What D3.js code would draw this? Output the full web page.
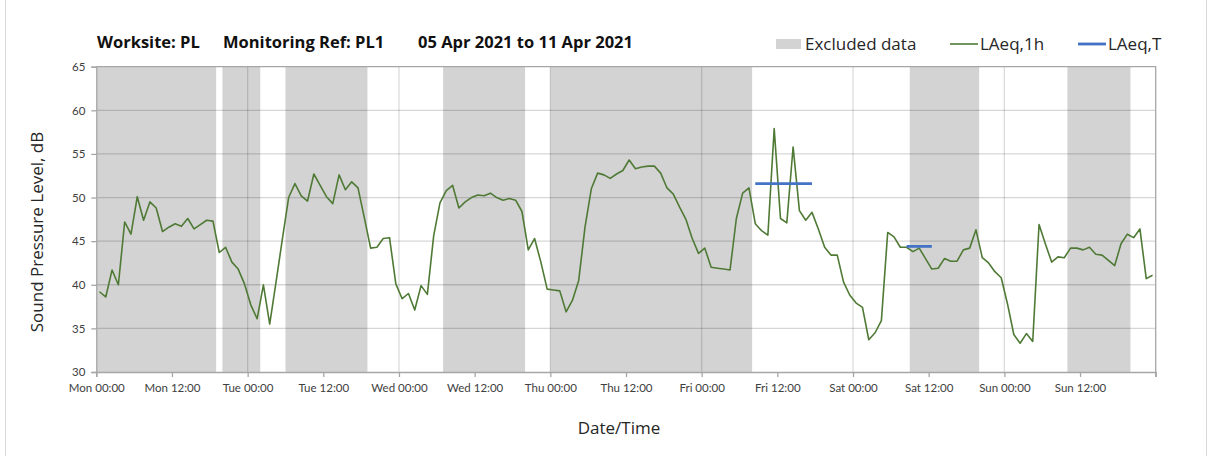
<!DOCTYPE html>
<html>
<head>
<meta charset="utf-8">
<script src="https://cdn.jsdelivr.net/npm/d3@7"></script>
<style>
  body { margin: 0; background: #fff; }
  text { font-family: "Open Sans", Lato, sans-serif; }
</style>
</head>
<body>
<script>
// chart values
var startTime = new Date(2021, 3, 5, 0, 0);   // Mon 05 Apr 2021 00:00
var endTime = new Date(2021, 3, 12, 0, 0);

// hourly LAeq,1h (one value per hour from Mon 00:00)
var laeq1h = [
  39.2, 38.6, 41.7, 40.0, 47.2, 45.8, 50.1, 47.4, 49.5, 48.8, 46.1, 46.6,
  47.0, 46.7, 47.6, 46.4, 46.9, 47.4, 47.3, 43.7, 44.3, 42.6, 41.8, 40.1,
  37.7, 36.1, 40.0, 35.5, 40.3, 45.2, 50.0, 51.6, 50.2, 49.6, 52.7, 51.4,
  50.1, 49.3, 52.6, 50.9, 51.8, 51.1, 47.7, 44.2, 44.3, 45.3, 45.4, 40.1,
  38.4, 39.0, 37.1, 39.9, 38.9, 45.6, 49.4, 50.8, 51.4, 48.8, 49.5, 50.0,
  50.3, 50.2, 50.5, 50.0, 49.7, 49.9, 49.7, 48.4, 44.0, 45.3, 42.6, 39.5,
  39.4, 39.3, 36.9, 38.2, 40.5, 46.6, 51.0, 52.8, 52.6, 52.2, 52.7, 53.1,
  54.3, 53.3, 53.5, 53.6, 53.6, 52.8, 51.1, 50.4, 48.9, 47.5, 45.3, 43.6,
  44.2, 42.0, 41.9, 41.8, 41.7, 47.6, 50.5, 51.1, 47.0, 46.2, 45.7, 57.9,
  47.6, 47.1, 55.8, 48.5, 47.4, 48.3, 46.4, 44.3, 43.4, 43.4, 40.3, 38.8,
  37.9, 37.4, 33.7, 34.5, 35.9, 46.0, 45.5, 44.3, 44.3, 43.8, 44.2, 43.0,
  41.8, 41.9, 43.0, 42.7, 42.7, 44.0, 44.2, 46.3, 43.1, 42.5, 41.5, 40.8,
  37.8, 34.3, 33.3, 34.4, 33.5, 46.9, 44.7, 42.6, 43.2, 43.1, 44.2, 44.2,
  44.0, 44.3, 43.5, 43.4, 42.8, 42.2, 44.7, 45.8, 45.4, 46.4, 40.7, 41.1
];

// excluded periods, hours from Mon 00:00
var excludedStart = [0, 20, 30, 55, 72, 129, 154];
var excludedEnd   = [19, 26, 43, 68, 104, 140, 164];

// LAeq,T periods (first and last hourly value covered) and levels
var laeqTFirst = [104, 128];
var laeqTLast  = [113, 132];
var laeqTValue = [51.6, 44.4];

var yTicks = [30, 35, 40, 45, 50, 55, 60, 65];

//Width and height
var w = 1212;
var h = 456;
var plotLeft = 96.3, plotRight = 1155.7, plotTop = 66.7, plotBottom = 372;

var hourMs = 3600 * 1000;
function atHour(hr) { return new Date(startTime.getTime() + hr * hourMs); }

var x = d3.scaleTime().domain([startTime, endTime]).range([plotLeft, plotRight]);
var y = d3.scaleLinear().domain([30, 65]).range([plotBottom, plotTop]);

var svg = d3.select("body").append("svg")
    .attr("width", w)
    .attr("height", h);

// outer frame
svg.append("rect")
    .attr("x", 5.5).attr("y", -2)
    .attr("width", 1201).attr("height", h + 4)
    .attr("fill", "none")
    .attr("stroke", "#d9d9d9");

// excluded bands
svg.selectAll("rect.band")
    .data(excludedStart)
    .enter().append("rect")
    .attr("class", "band")
    .attr("x", function (d) { return x(atHour(d)); })
    .attr("y", plotTop)
    .attr("width", function (d, i) { return x(atHour(excludedEnd[i])) - x(atHour(d)); })
    .attr("height", plotBottom - plotTop)
    .attr("fill", "#d3d3d3");

// gridlines
svg.append("g").selectAll("line")
    .data(yTicks.slice(1, -1))
    .enter().append("line")
    .attr("x1", plotLeft).attr("x2", plotRight)
    .attr("y1", function (d) { return y(d); })
    .attr("y2", function (d) { return y(d); })
    .attr("stroke", "rgba(0,0,0,0.16)")
    .attr("stroke-width", 1.3);

var dayTicks = d3.timeDay.range(d3.timeDay.offset(startTime, 1), endTime);
svg.append("g").selectAll("line")
    .data(dayTicks)
    .enter().append("line")
    .attr("x1", function (d) { return x(d); })
    .attr("x2", function (d) { return x(d); })
    .attr("y1", plotTop).attr("y2", plotBottom)
    .attr("stroke", "rgba(0,0,0,0.14)")
    .attr("stroke-width", 1.3);

// plot frame (top and right)
svg.append("path")
    .attr("d", "M" + plotLeft + "," + plotTop + "H" + plotRight + "V" + plotBottom)
    .attr("fill", "none")
    .attr("stroke", "#a6a6a6")
    .attr("stroke-width", 1.3);

// axes
var fmt = d3.timeFormat("%a %H:%M");
var xAxis = d3.axisBottom(x)
    .tickValues(d3.timeHour.every(12).range(startTime, endTime))
    .tickFormat(fmt)
    .tickSize(5)
    .tickPadding(7);
var gx = svg.append("g")
    .attr("transform", "translate(0," + plotBottom + ")")
    .call(xAxis);
// closing tick at the right end
gx.append("line").attr("x1", plotRight).attr("x2", plotRight).attr("y1", 0).attr("y2", 5);

var yAxis = d3.axisLeft(y).tickValues(yTicks).tickSize(5).tickPadding(6);
var gy = svg.append("g")
    .attr("transform", "translate(" + plotLeft + ",0)")
    .call(yAxis);

[gx, gy].forEach(function (g) {
    g.select(".domain").attr("stroke", "#a6a6a6").attr("stroke-width", 1.3);
    g.selectAll("line").attr("stroke", "#a6a6a6").attr("stroke-width", 1.3);
    g.selectAll("text")
        .attr("fill", "#404040")
        .style("font-size", "11.5px")
        .style("font-family", "Lato, sans-serif");
});

// LAeq,1h line
var line = d3.line()
    .x(function (d, i) { return x(atHour(i + 0.5)); })
    .y(function (d) { return y(d); });

svg.append("path")
    .datum(laeq1h)
    .attr("d", line)
    .attr("fill", "none")
    .attr("stroke", "#4f7a35")
    .attr("stroke-width", 1.6)
    .attr("stroke-linejoin", "round");

// LAeq,T lines
svg.selectAll("line.laeqT")
    .data(laeqTValue)
    .enter().append("line")
    .attr("class", "laeqT")
    .attr("x1", function (d, i) { return x(atHour(laeqTFirst[i] + 0.5)); })
    .attr("x2", function (d, i) { return x(atHour(laeqTLast[i] + 0.5)); })
    .attr("y1", function (d) { return y(d); })
    .attr("y2", function (d) { return y(d); })
    .attr("stroke", "#4472c4")
    .attr("stroke-width", 2.8);

// title
var title = svg.append("g").style("font-weight", "bold").style("font-size", "16.5px").attr("fill", "#111");
title.append("text").attr("x", 97).attr("y", 47.5).text("Worksite: PL");
title.append("text").attr("x", 223).attr("y", 47.5).text("Monitoring Ref: PL1");
title.append("text").attr("x", 418).attr("y", 47.5).text("05 Apr 2021 to 11 Apr 2021");

// legend
var lg = svg.append("g").style("font-size", "17px").attr("fill", "#262626");
lg.append("rect").attr("x", 776).attr("y", 39).attr("width", 25).attr("height", 10).attr("fill", "#d3d3d3");
lg.append("text").attr("x", 805).attr("y", 49.5).text("Excluded data");
lg.append("line").attr("x1", 950).attr("x2", 978).attr("y1", 44).attr("y2", 44)
    .attr("stroke", "#4f7a35").attr("stroke-width", 1.6);
lg.append("text").attr("x", 980).attr("y", 49.5).text("LAeq,1h");
lg.append("line").attr("x1", 1078).attr("x2", 1106).attr("y1", 44).attr("y2", 44)
    .attr("stroke", "#4472c4").attr("stroke-width", 2.8);
lg.append("text").attr("x", 1108).attr("y", 49.5).text("LAeq,T");

// axis titles
svg.append("text")
    .attr("transform", "translate(43,232) rotate(-90)")
    .attr("text-anchor", "middle")
    .style("font-size", "17px")
    .attr("fill", "#262626")
    .text("Sound Pressure Level, dB");

svg.append("text")
    .attr("x", 619).attr("y", 434)
    .attr("text-anchor", "middle")
    .style("font-size", "17px")
    .attr("fill", "#262626")
    .text("Date/Time");
</script>
</body>
</html>
